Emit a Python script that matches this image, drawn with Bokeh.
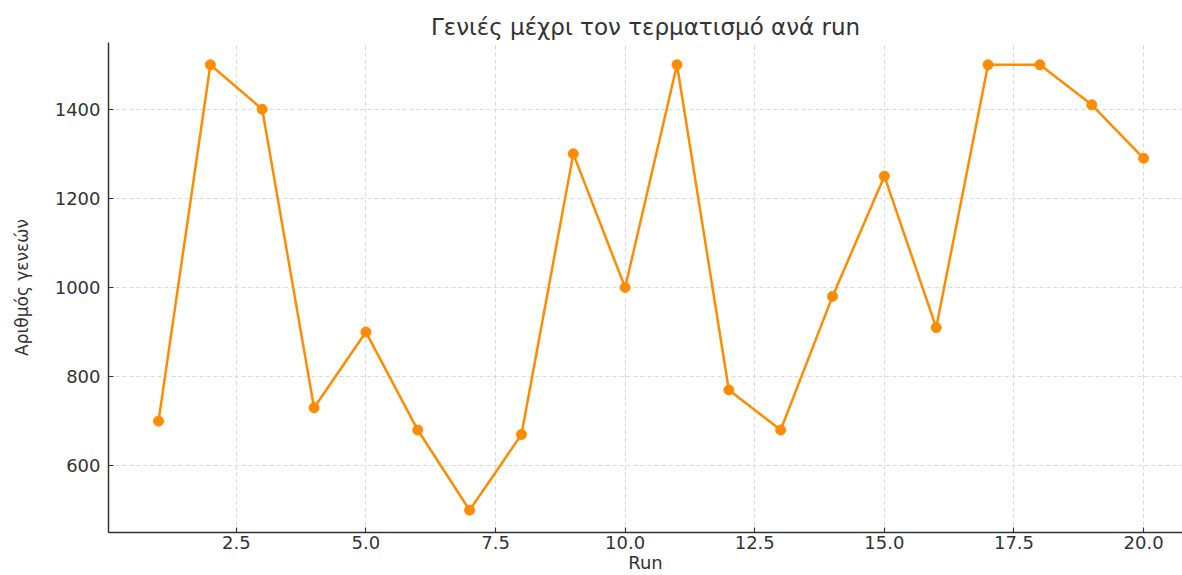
from bokeh.plotting import figure
from bokeh.models import ColumnDataSource, FixedTicker, Range1d, PrintfTickFormatter
from bokeh.embed import file_html
from bokeh.resources import INLINE

# ---- data ----
runs = list(range(1, 21))
generations = [700, 1500, 1400, 730, 900, 680, 500, 670, 1300, 1000,
               1500, 770, 680, 980, 1250, 910, 1500, 1500, 1410, 1290]
x_ticks = [2.5, 5.0, 7.5, 10.0, 12.5, 15.0, 17.5, 20.0]
y_ticks = [600, 800, 1000, 1200, 1400]
title_text = "Γενιές μέχρι τον τερματισμό ανά run"
x_label = "Run"
y_label = "Αριθμός γενεών"

FONT = "DejaVu Sans"
TXT = "#333333"
ORANGE = "#ff8c00"

source = ColumnDataSource(data=dict(run=runs, gen=generations))

p = figure(width=1182, height=575, output_backend="svg", toolbar_location=None, tools="",
           x_range=Range1d(0.035, 20.75), y_range=Range1d(450, 1550),
           min_border_left=108, min_border_right=0, min_border_top=42, min_border_bottom=40,
           title=title_text)

p.background_fill_color = "white"
p.border_fill_color = "white"
p.outline_line_color = None

p.title.text_font = FONT
p.title.text_font_size = "23px"
p.title.text_font_style = "normal"
p.title.text_color = TXT
p.title.align = "center"
p.title.standoff = 6

p.line(x="run", y="gen", source=source, line_color=ORANGE, line_width=2.5)
p.scatter(x="run", y="gen", source=source, size=10, fill_color=ORANGE, line_color=ORANGE)

p.xaxis.ticker = FixedTicker(ticks=x_ticks)
p.xaxis.formatter = PrintfTickFormatter(format="%.1f")
p.yaxis.ticker = FixedTicker(ticks=y_ticks)

for ax in (p.xaxis[0], p.yaxis[0]):
    ax.axis_line_color = TXT
    ax.axis_line_width = 1.5
    ax.major_tick_in = 5
    ax.major_tick_out = 0
    ax.major_tick_line_color = TXT
    ax.major_tick_line_width = 1.2
    ax.minor_tick_line_color = None
    ax.major_label_text_font = FONT
    ax.major_label_text_font_size = "18px"
    ax.major_label_text_color = TXT
    ax.axis_label_text_font = FONT
    ax.axis_label_text_font_style = "normal"
    ax.axis_label_text_color = TXT

p.xaxis.major_label_standoff = 3
p.xaxis.axis_label = x_label
p.xaxis.axis_label_text_font_size = "18px"
p.xaxis.axis_label_standoff = 0
p.yaxis.major_label_standoff = 8
p.yaxis.axis_label = y_label
p.yaxis.axis_label_text_font_size = "17px"
p.yaxis.axis_label_standoff = 20

for g in (p.xgrid[0], p.ygrid[0]):
    g.grid_line_color = "#d9d9d9"
    g.grid_line_dash = "4 3"
    g.grid_line_width = 1
p.xgrid.ticker = FixedTicker(ticks=x_ticks)
p.ygrid.ticker = FixedTicker(ticks=y_ticks)

open("out.html", "w").write(file_html(p, INLINE))
